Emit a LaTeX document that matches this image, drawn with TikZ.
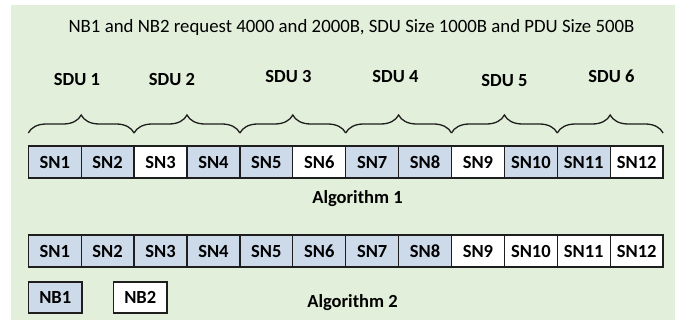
\documentclass[tikz,border=0pt]{standalone}
\usepackage{fontspec}
\setmainfont{Carlito}
\usetikzlibrary{decorations.pathreplacing}
\definecolor{panelgreen}{HTML}{E2EFDA}
\definecolor{snblue}{HTML}{CCDAEA}
\definecolor{edge}{HTML}{1E1E1E}
\tikzset{
  cell/.style={draw=edge, line width=1.3pt, minimum width=52.9pt, minimum height=32pt,
    inner sep=0pt, outer sep=0pt, anchor=north west,
    font=\fontsize{18.5}{21}\selectfont\bfseries},
  used/.style={cell, fill=snblue},
  free/.style={cell, fill=white},
  sdulabel/.style={font=\fontsize{18.5}{21}\selectfont\bfseries, inner sep=0pt},
  caption/.style={font=\fontsize{18.5}{21}\selectfont\bfseries, inner sep=0pt},
  sdubrace/.style={decorate, decoration={brace, amplitude=18pt}, draw=edge, line width=1.3pt},
}
\begin{document}
\begin{tikzpicture}[x=1pt,y=-1pt]
  \useasboundingbox (0,0) rectangle (675,320);
  \fill[panelgreen] (11,5) rectangle (675,320);

  \node[font=\fontsize{18.8}{22}\selectfont, inner sep=0pt] (title) at (351.5,27)
    {NB1 and NB2 request 4000 and 2000B, SDU Size 1000B and PDU Size 500B};

  % Algorithm 1 row
  \foreach \i/\s in {1/used,2/used,3/free,4/used,5/used,6/free,7/used,8/used,9/free,10/used,11/used,12/free}
    \node[\s] (a\i) at ({28.3+(\i-1)*52.9},146) {SN\i};

  % Algorithm 2 row
  \foreach \i/\s in {1/used,2/used,3/used,4/used,5/used,6/used,7/used,8/used,9/free,10/free,11/free,12/free}
    \node[\s] (b\i) at ({28.3+(\i-1)*52.9},235) {SN\i};

  % one brace per SDU, two PDUs each
  \foreach \k [evaluate=\k as \m using int(2*\k-1), evaluate=\k as \n using int(2*\k)] in {1,...,6}
    \draw[sdubrace] ([yshift=13pt]a\m.north west) -- ([yshift=13pt]a\n.north east);

  \node[sdulabel] (sdu1) at (77,80) {SDU 1};
  \node[sdulabel] (sdu2) at (172,80) {SDU 2};
  \node[sdulabel] (sdu3) at (288.5,77) {SDU 3};
  \node[sdulabel] (sdu4) at (395.5,77) {SDU 4};
  \node[sdulabel] (sdu5) at (504.5,81) {SDU 5};
  \node[sdulabel] (sdu6) at (611.5,76) {SDU 6};

  \node[caption] (alg1) at (357.5,199) {Algorithm 1};
  \node[caption] (alg2) at (352.5,303) {Algorithm 2};

  \node[used, minimum height=31pt, minimum width=53.5pt] (nb1) at (28.5,282) {NB1};
  \node[free, minimum height=31pt, minimum width=53.5pt] (nb2) at (113.5,282) {NB2};
\end{tikzpicture}
\end{document}
